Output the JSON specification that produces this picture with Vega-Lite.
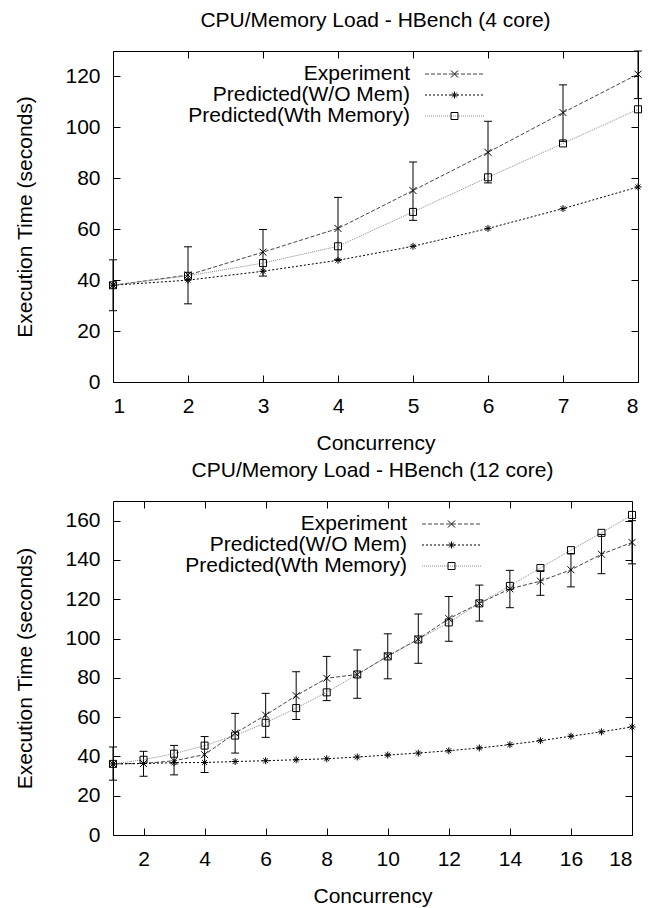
{
  "$schema": "https://vega.github.io/schema/vega-lite/v6.json",
  "background": "white",
  "padding": {"left": 14, "top": 9, "right": 5, "bottom": 5},
  "spacing": 5,
  "config": {
    "font": "Liberation Sans",
    "view": {"stroke": "black", "strokeWidth": 1},
    "axis": {"labelFontSize": 21, "titleFontSize": 21, "titleFontWeight": "normal", "labelColor": "black", "titleColor": "black", "tickColor": "black", "grid": false, "domain": false, "labelFont": "Liberation Sans", "titleFont": "Liberation Sans"},
    "title": {"fontSize": 21, "fontWeight": "normal", "font": "Liberation Sans", "color": "black"},
    "legend": {"labelFont": "Liberation Sans"}
  },
  "datasets": {
    "top": [
      {"c": 1, "series": "Experiment", "mk": "x", "t": 38.0},
      {"c": 2, "series": "Experiment", "mk": "x", "t": 42.0},
      {"c": 3, "series": "Experiment", "mk": "x", "t": 51.0},
      {"c": 4, "series": "Experiment", "mk": "x", "t": 60.3},
      {"c": 5, "series": "Experiment", "mk": "x", "t": 75.2},
      {"c": 6, "series": "Experiment", "mk": "x", "t": 90.2},
      {"c": 7, "series": "Experiment", "mk": "x", "t": 105.8},
      {"c": 8, "series": "Experiment", "mk": "x", "t": 120.9},
      {"c": 1, "series": "Predicted(W/O Mem)", "mk": "star", "t": 38.0},
      {"c": 2, "series": "Predicted(W/O Mem)", "mk": "star", "t": 40.0},
      {"c": 3, "series": "Predicted(W/O Mem)", "mk": "star", "t": 43.5},
      {"c": 4, "series": "Predicted(W/O Mem)", "mk": "star", "t": 47.8},
      {"c": 5, "series": "Predicted(W/O Mem)", "mk": "star", "t": 53.3},
      {"c": 6, "series": "Predicted(W/O Mem)", "mk": "star", "t": 60.3},
      {"c": 7, "series": "Predicted(W/O Mem)", "mk": "star", "t": 68.1},
      {"c": 8, "series": "Predicted(W/O Mem)", "mk": "star", "t": 76.6},
      {"c": 1, "series": "Predicted(Wth Memory)", "mk": "box", "t": 38.0},
      {"c": 2, "series": "Predicted(Wth Memory)", "mk": "box", "t": 41.7},
      {"c": 3, "series": "Predicted(Wth Memory)", "mk": "box", "t": 46.7},
      {"c": 4, "series": "Predicted(Wth Memory)", "mk": "box", "t": 53.3},
      {"c": 5, "series": "Predicted(Wth Memory)", "mk": "box", "t": 66.8},
      {"c": 6, "series": "Predicted(Wth Memory)", "mk": "box", "t": 80.4},
      {"c": 7, "series": "Predicted(Wth Memory)", "mk": "box", "t": 93.7},
      {"c": 8, "series": "Predicted(Wth Memory)", "mk": "box", "t": 107.1}
    ],
    "topErr": [
      {"c": 1, "lo": 28.0, "hi": 48.0},
      {"c": 2, "lo": 30.7, "hi": 53.1},
      {"c": 3, "lo": 41.6, "hi": 59.9},
      {"c": 4, "lo": 48.0, "hi": 72.5},
      {"c": 5, "lo": 63.5, "hi": 86.4},
      {"c": 6, "lo": 78.2, "hi": 102.4},
      {"c": 7, "lo": 94.5, "hi": 116.7},
      {"c": 8, "lo": 111.3, "hi": 130.0}
    ],
    "bot": [
      {"c": 1, "series": "Experiment", "mk": "x", "t": 36.2},
      {"c": 2, "series": "Experiment", "mk": "x", "t": 36.4},
      {"c": 3, "series": "Experiment", "mk": "x", "t": 37.8},
      {"c": 4, "series": "Experiment", "mk": "x", "t": 40.9},
      {"c": 5, "series": "Experiment", "mk": "x", "t": 51.8},
      {"c": 6, "series": "Experiment", "mk": "x", "t": 61.0},
      {"c": 7, "series": "Experiment", "mk": "x", "t": 70.9},
      {"c": 8, "series": "Experiment", "mk": "x", "t": 79.8},
      {"c": 9, "series": "Experiment", "mk": "x", "t": 81.7},
      {"c": 10, "series": "Experiment", "mk": "x", "t": 91.1},
      {"c": 11, "series": "Experiment", "mk": "x", "t": 99.7},
      {"c": 12, "series": "Experiment", "mk": "x", "t": 110.1},
      {"c": 13, "series": "Experiment", "mk": "x", "t": 117.9},
      {"c": 14, "series": "Experiment", "mk": "x", "t": 125.3},
      {"c": 15, "series": "Experiment", "mk": "x", "t": 129.2},
      {"c": 16, "series": "Experiment", "mk": "x", "t": 135.0},
      {"c": 17, "series": "Experiment", "mk": "x", "t": 142.9},
      {"c": 18, "series": "Experiment", "mk": "x", "t": 148.9},
      {"c": 1, "series": "Predicted(W/O Mem)", "mk": "star", "t": 36.2},
      {"c": 2, "series": "Predicted(W/O Mem)", "mk": "star", "t": 36.4},
      {"c": 3, "series": "Predicted(W/O Mem)", "mk": "star", "t": 36.8},
      {"c": 4, "series": "Predicted(W/O Mem)", "mk": "star", "t": 36.9},
      {"c": 5, "series": "Predicted(W/O Mem)", "mk": "star", "t": 37.4},
      {"c": 6, "series": "Predicted(W/O Mem)", "mk": "star", "t": 37.8},
      {"c": 7, "series": "Predicted(W/O Mem)", "mk": "star", "t": 38.3},
      {"c": 8, "series": "Predicted(W/O Mem)", "mk": "star", "t": 38.8},
      {"c": 9, "series": "Predicted(W/O Mem)", "mk": "star", "t": 39.7},
      {"c": 10, "series": "Predicted(W/O Mem)", "mk": "star", "t": 40.7},
      {"c": 11, "series": "Predicted(W/O Mem)", "mk": "star", "t": 41.7},
      {"c": 12, "series": "Predicted(W/O Mem)", "mk": "star", "t": 42.9},
      {"c": 13, "series": "Predicted(W/O Mem)", "mk": "star", "t": 44.3},
      {"c": 14, "series": "Predicted(W/O Mem)", "mk": "star", "t": 46.0},
      {"c": 15, "series": "Predicted(W/O Mem)", "mk": "star", "t": 48.0},
      {"c": 16, "series": "Predicted(W/O Mem)", "mk": "star", "t": 50.3},
      {"c": 17, "series": "Predicted(W/O Mem)", "mk": "star", "t": 52.5},
      {"c": 18, "series": "Predicted(W/O Mem)", "mk": "star", "t": 55.0},
      {"c": 1, "series": "Predicted(Wth Memory)", "mk": "box", "t": 36.2},
      {"c": 2, "series": "Predicted(Wth Memory)", "mk": "box", "t": 38.3},
      {"c": 3, "series": "Predicted(Wth Memory)", "mk": "box", "t": 41.4},
      {"c": 4, "series": "Predicted(Wth Memory)", "mk": "box", "t": 45.5},
      {"c": 5, "series": "Predicted(Wth Memory)", "mk": "box", "t": 50.6},
      {"c": 6, "series": "Predicted(Wth Memory)", "mk": "box", "t": 57.1},
      {"c": 7, "series": "Predicted(Wth Memory)", "mk": "box", "t": 64.6},
      {"c": 8, "series": "Predicted(Wth Memory)", "mk": "box", "t": 72.6},
      {"c": 9, "series": "Predicted(Wth Memory)", "mk": "box", "t": 81.7},
      {"c": 10, "series": "Predicted(Wth Memory)", "mk": "box", "t": 90.9},
      {"c": 11, "series": "Predicted(Wth Memory)", "mk": "box", "t": 99.5},
      {"c": 12, "series": "Predicted(Wth Memory)", "mk": "box", "t": 108.2},
      {"c": 13, "series": "Predicted(Wth Memory)", "mk": "box", "t": 117.9},
      {"c": 14, "series": "Predicted(Wth Memory)", "mk": "box", "t": 126.8},
      {"c": 15, "series": "Predicted(Wth Memory)", "mk": "box", "t": 135.9},
      {"c": 16, "series": "Predicted(Wth Memory)", "mk": "box", "t": 145.0},
      {"c": 17, "series": "Predicted(Wth Memory)", "mk": "box", "t": 153.8},
      {"c": 18, "series": "Predicted(Wth Memory)", "mk": "box", "t": 162.9}
    ],
    "botErr": [
      {"c": 1, "lo": 27.9, "hi": 44.8},
      {"c": 2, "lo": 29.9, "hi": 42.6},
      {"c": 3, "lo": 30.6, "hi": 45.6},
      {"c": 4, "lo": 31.8, "hi": 50.1},
      {"c": 5, "lo": 41.7, "hi": 61.9},
      {"c": 6, "lo": 49.7, "hi": 72.1},
      {"c": 7, "lo": 58.8, "hi": 83.1},
      {"c": 8, "lo": 68.4, "hi": 90.9},
      {"c": 9, "lo": 69.6, "hi": 94.2},
      {"c": 10, "lo": 79.5, "hi": 102.4},
      {"c": 11, "lo": 87.4, "hi": 112.5},
      {"c": 12, "lo": 98.6, "hi": 121.4},
      {"c": 13, "lo": 108.9, "hi": 127.2},
      {"c": 14, "lo": 115.7, "hi": 134.7},
      {"c": 15, "lo": 122.0, "hi": 134.5},
      {"c": 16, "lo": 126.3, "hi": 143.1},
      {"c": 17, "lo": 133.0, "hi": 153.0},
      {"c": 18, "lo": 138.0, "hi": 160.0}
    ]
  },
  "vconcat": [
    {
      "title": {"text": "CPU/Memory Load - HBench (4 core)", "offset": 20},
      "width": 525,
      "height": 331,
      "resolve": {"axis": {"x": "independent", "y": "independent"}},
      "layer": [
        {
          "data": {"name": "topErr"},
          "mark": {"type": "rule", "color": "black", "strokeWidth": 1},
          "encoding": {
            "x": {"field": "c", "type": "quantitative", "scale": {"domain": [1, 8], "nice": false, "zero": false},
              "axis": {"title": "Concurrency", "values": [1, 2, 3, 4, 5, 6, 7, 8], "format": "d", "tickSize": -7, "labelPadding": 20, "titlePadding": 16}},
            "y": {"field": "lo", "type": "quantitative", "scale": {"domain": [0, 130], "nice": false},
              "axis": {"title": "Execution Time (seconds)", "values": [0, 20, 40, 60, 80, 100, 120], "tickSize": -7, "labelPadding": 20, "titlePadding": 29}},
            "y2": {"field": "hi"}
          }
        },
        {
          "data": {"name": "topErr"},
          "mark": {"type": "tick", "orient": "horizontal", "size": 8, "thickness": 1, "color": "black", "opacity": 1},
          "encoding": {"x": {"field": "c", "type": "quantitative", "axis": null}, "y": {"field": "lo", "type": "quantitative", "axis": null}}
        },
        {
          "data": {"name": "topErr"},
          "mark": {"type": "tick", "orient": "horizontal", "size": 8, "thickness": 1, "color": "black", "opacity": 1},
          "encoding": {"x": {"field": "c", "type": "quantitative", "axis": null}, "y": {"field": "hi", "type": "quantitative", "axis": null}}
        },
        {
          "data": {"name": "top"},
          "mark": {"type": "line", "strokeWidth": 1},
          "encoding": {
            "x": {"field": "c", "type": "quantitative", "axis": null},
            "y": {"field": "t", "type": "quantitative", "axis": null},
            "color": {"field": "series", "type": "nominal",
              "scale": {"domain": ["Experiment", "Predicted(W/O Mem)", "Predicted(Wth Memory)"], "range": ["#444444", "#000000", "#888888"]},
              "legend": {"orient": "none", "legendX": 331.5, "legendY": 12.5, "title": null, "symbolType": "M-5,0L5,0", "symbolSize": 144, "symbolStrokeWidth": 1, "labelAlign": "right", "labelOffset": -55.5, "labelFontSize": 21, "labelColor": "black", "rowPadding": -2, "padding": 0, "labelLimit": 400}},
            "strokeDash": {"field": "series", "type": "nominal",
              "scale": {"domain": ["Experiment", "Predicted(W/O Mem)", "Predicted(Wth Memory)"], "range": [[4, 2], [2, 2], [1, 1]]},
              "legend": {"orient": "none", "legendX": 331.5, "legendY": 12.5, "title": null, "symbolType": "M-5,0L5,0", "symbolSize": 144, "symbolStrokeWidth": 1, "labelAlign": "right", "labelOffset": -55.5, "labelFontSize": 21, "labelColor": "black", "rowPadding": -2, "padding": 0, "labelLimit": 400}}
          }
        },
        {
          "data": {"name": "top"},
          "mark": {"type": "point", "filled": false, "size": 49, "strokeWidth": 1, "color": "black", "opacity": 1},
          "encoding": {
            "x": {"field": "c", "type": "quantitative",
              "axis": {"orient": "top", "labels": false, "title": null, "values": [1, 2, 3, 4, 5, 6, 7, 8], "tickSize": -7}},
            "y": {"field": "t", "type": "quantitative",
              "axis": {"orient": "right", "labels": false, "title": null, "values": [0, 20, 40, 60, 80, 100, 120], "tickSize": -7}},
            "shape": {"field": "mk", "type": "nominal",
              "scale": {"domain": ["x", "star", "box"], "range": ["M-1,-1L1,1M-1,1L1,-1", "M-1,0L1,0M0,-1L0,1M-0.7,-0.7L0.7,0.7M-0.7,0.7L0.7,-0.7", "square"]},
              "legend": {"orient": "none", "legendX": 331, "legendY": 12.5, "title": null, "symbolSize": 49, "symbolStrokeColor": "black", "symbolFillColor": "transparent", "symbolStrokeWidth": 1, "labelOpacity": 0, "labelFontSize": 21, "rowPadding": -2, "padding": 0}}
          }
        }
      ]
    },
    {
      "title": {"text": "CPU/Memory Load - HBench (12 core)", "offset": 20},
      "width": 519,
      "height": 334,
      "resolve": {"axis": {"x": "independent", "y": "independent"}},
      "layer": [
        {
          "data": {"name": "botErr"},
          "mark": {"type": "rule", "color": "black", "strokeWidth": 1},
          "encoding": {
            "x": {"field": "c", "type": "quantitative", "scale": {"domain": [1, 18], "nice": false, "zero": false},
              "axis": {"title": "Concurrency", "values": [2, 4, 6, 8, 10, 12, 14, 16, 18], "format": "d", "tickSize": -7, "labelPadding": 20, "titlePadding": 16}},
            "y": {"field": "lo", "type": "quantitative", "scale": {"domain": [0, 170], "nice": false},
              "axis": {"title": "Execution Time (seconds)", "values": [0, 20, 40, 60, 80, 100, 120, 140, 160], "tickSize": -7, "labelPadding": 20, "titlePadding": 29}},
            "y2": {"field": "hi"}
          }
        },
        {
          "data": {"name": "botErr"},
          "mark": {"type": "tick", "orient": "horizontal", "size": 8, "thickness": 1, "color": "black", "opacity": 1},
          "encoding": {"x": {"field": "c", "type": "quantitative", "axis": null}, "y": {"field": "lo", "type": "quantitative", "axis": null}}
        },
        {
          "data": {"name": "botErr"},
          "mark": {"type": "tick", "orient": "horizontal", "size": 8, "thickness": 1, "color": "black", "opacity": 1},
          "encoding": {"x": {"field": "c", "type": "quantitative", "axis": null}, "y": {"field": "hi", "type": "quantitative", "axis": null}}
        },
        {
          "data": {"name": "bot"},
          "mark": {"type": "line", "strokeWidth": 1},
          "encoding": {
            "x": {"field": "c", "type": "quantitative", "axis": null},
            "y": {"field": "t", "type": "quantitative", "axis": null},
            "color": {"field": "series", "type": "nominal",
              "scale": {"domain": ["Experiment", "Predicted(W/O Mem)", "Predicted(Wth Memory)"], "range": ["#444444", "#000000", "#888888"]},
              "legend": {"orient": "none", "legendX": 328.5, "legendY": 12.5, "title": null, "symbolType": "M-5,0L5,0", "symbolSize": 144, "symbolStrokeWidth": 1, "labelAlign": "right", "labelOffset": -55.5, "labelFontSize": 21, "labelColor": "black", "rowPadding": -2, "padding": 0, "labelLimit": 400}},
            "strokeDash": {"field": "series", "type": "nominal",
              "scale": {"domain": ["Experiment", "Predicted(W/O Mem)", "Predicted(Wth Memory)"], "range": [[4, 2], [2, 2], [1, 1]]},
              "legend": {"orient": "none", "legendX": 328.5, "legendY": 12.5, "title": null, "symbolType": "M-5,0L5,0", "symbolSize": 144, "symbolStrokeWidth": 1, "labelAlign": "right", "labelOffset": -55.5, "labelFontSize": 21, "labelColor": "black", "rowPadding": -2, "padding": 0, "labelLimit": 400}}
          }
        },
        {
          "data": {"name": "bot"},
          "mark": {"type": "point", "filled": false, "size": 49, "strokeWidth": 1, "color": "black", "opacity": 1},
          "encoding": {
            "x": {"field": "c", "type": "quantitative",
              "axis": {"orient": "top", "labels": false, "title": null, "values": [2, 4, 6, 8, 10, 12, 14, 16, 18], "tickSize": -7}},
            "y": {"field": "t", "type": "quantitative",
              "axis": {"orient": "right", "labels": false, "title": null, "values": [0, 20, 40, 60, 80, 100, 120, 140, 160], "tickSize": -7}},
            "shape": {"field": "mk", "type": "nominal",
              "scale": {"domain": ["x", "star", "box"], "range": ["M-1,-1L1,1M-1,1L1,-1", "M-1,0L1,0M0,-1L0,1M-0.7,-0.7L0.7,0.7M-0.7,0.7L0.7,-0.7", "square"]},
              "legend": {"orient": "none", "legendX": 328, "legendY": 12.5, "title": null, "symbolSize": 49, "symbolStrokeColor": "black", "symbolFillColor": "transparent", "symbolStrokeWidth": 1, "labelOpacity": 0, "labelFontSize": 21, "rowPadding": -2, "padding": 0}}
          }
        }
      ]
    }
  ],
  "resolve": {
    "scale": {"color": "independent", "strokeDash": "independent", "shape": "independent"},
    "legend": {"color": "independent", "strokeDash": "independent", "shape": "independent"}
  }
}
